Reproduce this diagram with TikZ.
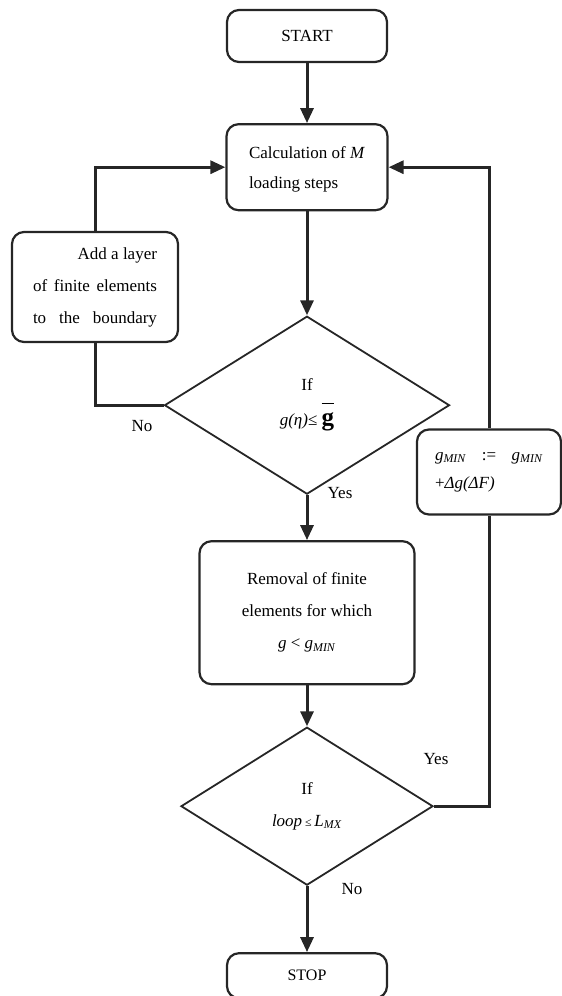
\documentclass[tikz,border=0pt]{standalone}
\usepackage{fontspec}
\setmainfont{Liberation Serif}
\usetikzlibrary{arrows.meta,positioning,shapes.geometric}

\begin{document}
\begin{tikzpicture}[
  x=1pt, y=-1pt,
  font=\fontsize{17}{32}\selectfont,
  block/.style={draw=black!85,line width=2.2pt,rounded corners=12pt,align=center,inner sep=0pt},
  decision/.style={draw=black!85,line width=1.8pt,diamond,align=center,inner sep=0pt},
  arrow/.style={-{Triangle[length=15pt,width=13pt]},line width=3pt,draw=black!85},
  line/.style={line width=3pt,draw=black!85},
  lbl/.style={inner sep=0pt}
]
\useasboundingbox (0,0) rectangle (562,996);

\node[block, minimum width=160pt, minimum height=52pt] (start) at (307,36) {START};
\node[block, minimum width=161pt, minimum height=86pt, below=60pt of start] (calc)
  {\begin{tabular}{@{}l@{}}Calculation of \textit{M}\\[-2pt] loading steps\end{tabular}};
\node[decision, minimum width=285pt, minimum height=178pt, below=104pt of calc] (d1)
  {If\\[3pt] \textit{g(η)}≤ $\overline{\hbox{\bfseries\fontsize{25}{25}\selectfont g\rule{0pt}{21pt}}}$};
\node[block, minimum width=215pt, minimum height=143pt, below=45pt of d1] (remove)
  {Removal of finite\\elements for which\\\textit{g} < \textit{g}\textsubscript{\textit{MIN}}};
\node[decision, minimum width=252pt, minimum height=158pt, below=41pt of remove] (d2)
  {If\\\textit{loop}\,{\fontsize{12}{12}\selectfont ≤}\,\textit{L}\textsubscript{\textit{MX}}};
\node[block, minimum width=160pt, minimum height=45pt, below=66pt of d2] (stop)
  {\fontsize{16}{16}\selectfont STOP};

% side boxes of the two loops
\node[block, align=flush right, text width=124pt, minimum width=166pt, minimum height=110pt] (add) at (95,287)
  {Add a layer\\of\hfill finite\hfill elements\\to\hfill the\hfill boundary};
\node[block, fill=white, align=flush left, text width=108pt, minimum width=144pt, minimum height=85pt] (gmin) at (489,472)
  {\textit{g}\textsubscript{\textit{MIN}}\hfill:=\hfill\textit{g}\textsubscript{\textit{MIN}}\\[-4pt] +\textit{Δg(ΔF)}};

\node[lbl] (no1) at (142,426) {No};
\node[lbl] (yes1) at (340,493) {Yes};
\node[lbl] (yes2) at (436,759) {Yes};
\node[lbl] (no2) at (352,889) {No};

\draw[arrow] (start) -- (calc);
\draw[arrow] (calc) -- (d1);
\draw[line] (d1.west) -| (add.south);
\draw[arrow] (add.north) |- (calc.west);
\draw[arrow] (d1) -- (remove);
\draw[arrow] (remove) -- (d2);
\draw[line] (d2.east) -| (gmin.south);
\draw[arrow] (gmin.north) |- (calc.east);
\draw[arrow] (d2) -- (stop);
\end{tikzpicture}
\end{document}
